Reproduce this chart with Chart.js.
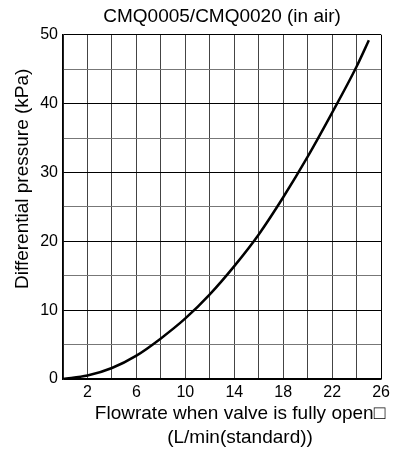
<!DOCTYPE html>
<html>
<head>
<meta charset="utf-8">
<script src="https://cdn.jsdelivr.net/npm/chart.js@4"></script>
<style>
  html, body { margin: 0; padding: 0; background: #fff; }
  #wrap { width: 394px; height: 450px; }
</style>
</head>
<body>
<div id="wrap"><canvas id="flowChart" width="394" height="450"></canvas></div>
<script>
/* ---- dati della curva ---- */
const flowrate = [0, 2, 4, 6, 8, 10, 12, 14, 16, 18, 20, 22, 24, 25];
const pressure = [0, 0.5, 1.6, 3.4, 5.9, 8.8, 12.3, 16.4, 21.0, 26.4, 32.3, 38.7, 45.4, 49.2];

const xTickLabels = [2, 6, 10, 14, 18, 22, 26];
const yTickLabels = [0, 10, 20, 30, 40, 50];

const titolo = "CMQ0005/CMQ0020 (in air)";
const titoloX = ["Flowrate when valve is fully open\u25A1", "(L/min(standard))"];
const titoloY = "Differential pressure (kPa)";

const FONT = '"Liberation Sans", Arial, Helvetica, sans-serif';
Chart.defaults.font.family = FONT;
Chart.defaults.color = "#000";

/* titoli degli assi disegnati a mano (posizione fuori centro) */
const titoliAssi = {
    id: "titoliAssi",
    afterDraw(chart) {
        const { ctx, chartArea: a } = chart;
        ctx.save();
        ctx.fillStyle = "#000";
        ctx.font = "19px " + FONT;
        ctx.textAlign = "center";
        ctx.textBaseline = "alphabetic";
        titoloX.forEach((riga, i) => {
            ctx.fillText(riga, a.left + 177, a.bottom + 40 + i * 24);
        });
        ctx.translate(28, a.top + 144);
        ctx.rotate(-Math.PI / 2);
        ctx.fillText(titoloY, 0, 0);
        ctx.restore();
    }
};

new Chart(document.getElementById("flowChart"), {
    type: "line",
    data: {
        datasets: [{
            data: flowrate.map((x, i) => ({ x: x, y: pressure[i] })),
            borderColor: "#000",
            borderWidth: 2.5,
            pointRadius: 0,
            fill: false,
            cubicInterpolationMode: "monotone"
        }]
    },
    options: {
        responsive: false,
        animation: false,
        layout: { padding: { left: 0, right: 11, top: 0, bottom: 0 } },
        plugins: {
            legend: { display: false },
            tooltip: { enabled: false },
            title: {
                display: true,
                text: titolo,
                fullSize: false,
                font: { size: 19, weight: "normal" },
                color: "#000",
                padding: { top: 5, bottom: 7 }
            }
        },
        scales: {
            x: {
                type: "linear",
                min: 0,
                max: 26,
                afterFit: s => { s.height = 71; },
                border: { color: "#000", width: 1.5 },
                grid: {
                    drawTicks: false,
                    color: c => c.tick && c.tick.value === 26 ? "#000" : "#444",
                    lineWidth: 1
                },
                ticks: {
                    stepSize: 2,
                    autoSkip: false,
                    maxRotation: 0,
                    padding: 4,
                    font: { size: 16 },
                    callback: v => xTickLabels.includes(v) ? String(v) : ""
                }
            },
            y: {
                min: 0,
                max: 50,
                afterFit: s => { s.width = 63; },
                border: { color: "#000", width: 1.5 },
                grid: {
                    drawTicks: false,
                    color: c => c.tick && c.tick.value % 10 === 0 ? "#000" : "#777",
                    lineWidth: 1
                },
                ticks: {
                    stepSize: 5,
                    autoSkip: false,
                    padding: 5,
                    font: { size: 16 },
                    callback: v => yTickLabels.includes(v) ? String(v) : ""
                }
            }
        }
    },
    plugins: [titoliAssi]
});
</script>
</body>
</html>
